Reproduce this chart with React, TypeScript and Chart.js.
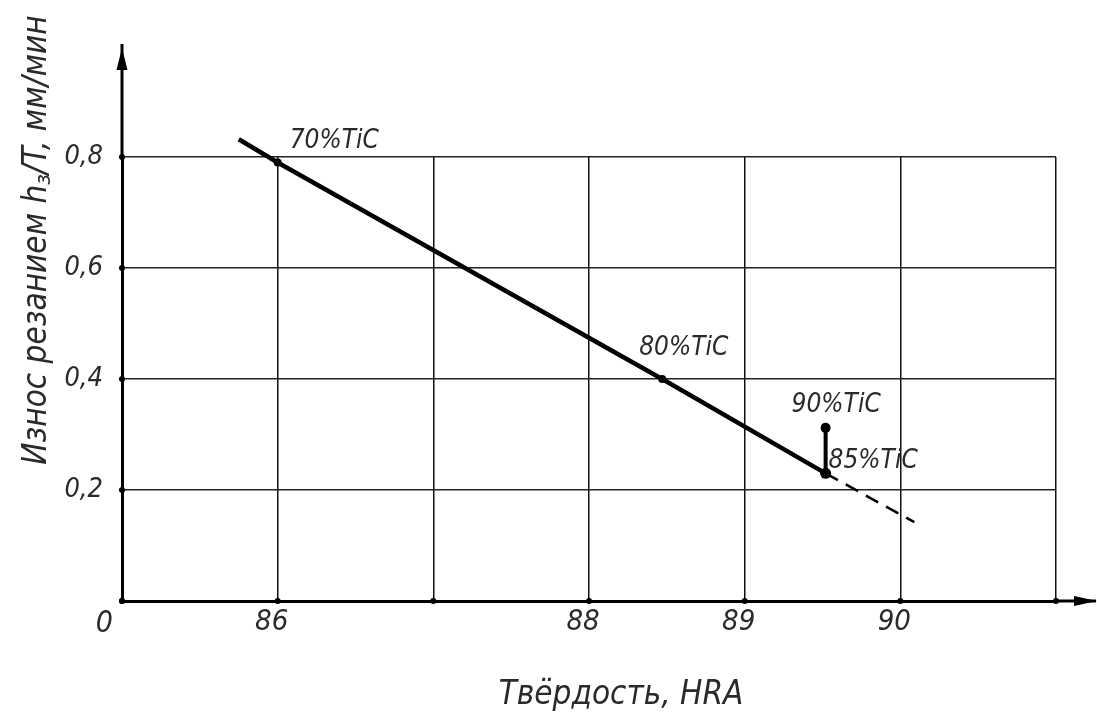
import React, { useEffect, useRef } from "react";
import { Chart, registerables } from "chart.js";

Chart.register(...registerables);

// Hardness (HRA) axis: origin 0 is a broken axis placed at 85
const xTickValues = [85, 86, 87, 88, 89, 90, 91];
const xTickLabels = ["", "86", "", "88", "89", "90", ""];
const originLabel = "0";
const yTickValues = [0, 0.2, 0.4, 0.6, 0.8];
const yTickLabels = ["", "0,2", "0,4", "0,6", "0,8"];

// Main wear line
const mainHardness = [85.75, 86.0, 88.47, 89.52];
const mainWear = [0.832, 0.79, 0.4, 0.23];
const mainLabels = ["", "70%TiC", "80%TiC", "85%TiC"];

// Dashed extrapolation
const dashHardness = [89.52, 90.09];
const dashWear = [0.23, 0.142];

// 90% TiC branch
const branchHardness = [89.52, 89.52];
const branchWear = [0.23, 0.312];
const branchLabels = ["", "90%TiC"];

const xTitle = "Твёрдость, HRA";
const yTitleA = "Износ резанием h";
const yTitleSub = "з";
const yTitleB = "/T, мм/мин";

const FONT = "'DejaVu Sans Condensed', 'Liberation Sans Narrow', sans-serif";
const TEXT = "#2a2a2a";

const labelOffsets: Record<string, [number, number]> = {
  "70%TiC": [12, -15],
  "80%TiC": [-23, -24],
  "85%TiC": [3, -5],
  "90%TiC": [-34, -16],
};

const decor = {
  id: "decor",
  afterDraw(chart: any) {
    const ctx = chart.ctx as CanvasRenderingContext2D;
    const xs = chart.scales.x;
    const ys = chart.scales.y;
    const ox = xs.getPixelForValue(85);
    const oy = ys.getPixelForValue(0);
    const top = ys.getPixelForValue(0.8);
    const right = xs.getPixelForValue(91);
    ctx.save();
    ctx.strokeStyle = "#000";
    ctx.fillStyle = "#000";
    ctx.lineWidth = 3;
    // y axis extension + arrow
    ctx.beginPath();
    ctx.moveTo(ox, top);
    ctx.lineTo(ox, 44);
    ctx.stroke();
    ctx.beginPath();
    ctx.moveTo(ox, 48);
    ctx.lineTo(ox - 5.5, 70);
    ctx.lineTo(ox + 5.5, 70);
    ctx.closePath();
    ctx.fill();
    // x axis extension + arrow
    ctx.beginPath();
    ctx.moveTo(right, oy);
    ctx.lineTo(1096, oy);
    ctx.stroke();
    ctx.beginPath();
    ctx.moveTo(1097, oy);
    ctx.lineTo(1074, oy - 5);
    ctx.lineTo(1074, oy + 5);
    ctx.closePath();
    ctx.fill();
    // tick dots
    for (const v of xTickValues) {
      ctx.beginPath();
      ctx.arc(xs.getPixelForValue(v), oy, 3, 0, Math.PI * 2);
      ctx.fill();
    }
    for (const v of yTickValues) {
      ctx.beginPath();
      ctx.arc(ox, ys.getPixelForValue(v), 3, 0, Math.PI * 2);
      ctx.fill();
    }
    // origin label
    ctx.fillStyle = TEXT;
    ctx.font = `italic 30px ${FONT}`;
    ctx.textAlign = "right";
    ctx.textBaseline = "alphabetic";
    ctx.fillText(originLabel, ox - 9, oy + 31);
    // point labels
    ctx.textAlign = "left";
    ctx.font = `italic 26px ${FONT}`;
    const drawLabels = (dsIndex: number, labels: string[]) => {
      const meta = chart.getDatasetMeta(dsIndex);
      labels.forEach((t, i) => {
        if (!t) return;
        const el = meta.data[i];
        const off = labelOffsets[t] || [0, 0];
        ctx.fillText(t, el.x + off[0], el.y + off[1]);
      });
    };
    drawLabels(0, mainLabels);
    drawLabels(2, branchLabels);
    // x title
    ctx.font = `italic 33px ${FONT}`;
    ctx.textAlign = "center";
    ctx.fillText(xTitle, 621, 704);
    // y title (rotated)
    ctx.translate(46, 240);
    ctx.rotate(-Math.PI / 2);
    const fBig = `italic 33px ${FONT}`;
    const fSmall = `italic 22px ${FONT}`;
    ctx.textAlign = "left";
    ctx.font = fBig;
    const wA = ctx.measureText(yTitleA).width;
    const wB = ctx.measureText(yTitleB).width;
    ctx.font = fSmall;
    const wS = ctx.measureText(yTitleSub).width;
    const total = wA + wS + wB;
    let cx = -total / 2;
    ctx.font = fBig;
    ctx.fillText(yTitleA, cx, 0);
    cx += wA;
    ctx.font = fSmall;
    ctx.fillText(yTitleSub, cx, 4);
    cx += wS;
    ctx.font = fBig;
    ctx.fillText(yTitleB, cx, 0);
    ctx.restore();
  },
};

export default function App() {
  const ref = useRef<HTMLCanvasElement>(null);
  useEffect(() => {
    document.body.style.margin = "0";
    const toPts = (xs: number[], ys: number[]) => xs.map((x, i) => ({ x, y: ys[i] }));
    const chart = new Chart(ref.current!, {
      type: "line",
      data: {
        datasets: [
          {
            data: toPts(mainHardness, mainWear),
            borderColor: "#000",
            backgroundColor: "#000",
            borderWidth: 4.5,
            pointRadius: [0, 4, 4, 5.5],
            pointBorderWidth: 0,
            pointBackgroundColor: "#000",
            tension: 0,
            clip: false,
          },
          {
            data: toPts(dashHardness, dashWear),
            borderColor: "#000",
            borderWidth: 2.5,
            borderDash: [14, 9],
            pointRadius: 0,
            tension: 0,
            clip: false,
          },
          {
            data: toPts(branchHardness, branchWear),
            borderColor: "#000",
            backgroundColor: "#000",
            borderWidth: 4,
            pointRadius: [0, 5],
            pointBorderWidth: 0,
            pointBackgroundColor: "#000",
            tension: 0,
            clip: false,
          },
        ],
      },
      options: {
        animation: false,
        responsive: false,
        events: [],
        layout: { padding: { top: 157, right: 41, left: 0, bottom: 0 } },
        plugins: { legend: { display: false }, tooltip: { enabled: false }, title: { display: false } },
        scales: {
          x: {
            type: "linear",
            min: 85,
            max: 91,
            afterBuildTicks: (s: any) => {
              s.ticks = xTickValues.map((v) => ({ value: v }));
            },
            afterFit: (s: any) => {
              s.height = 123;
            },
            ticks: {
              autoSkip: false,
              maxRotation: 0,
              padding: 4,
              labelOffset: -6,
              color: TEXT,
              font: { family: FONT, style: "italic", size: 29 },
              callback: (v: any) => {
                const i = xTickValues.indexOf(Math.round(Number(v)));
                return i >= 0 ? xTickLabels[i] : "";
              },
            },
            grid: { color: "#111", lineWidth: 1.5, drawTicks: false },
            border: { color: "#000", width: 3 },
          },
          y: {
            type: "linear",
            min: 0,
            max: 0.8,
            afterBuildTicks: (s: any) => {
              s.ticks = yTickValues.map((v) => ({ value: v }));
            },
            afterFit: (s: any) => {
              s.width = 122;
            },
            ticks: {
              autoSkip: false,
              padding: 19,
              color: TEXT,
              font: { family: FONT, style: "italic", size: 27 },
              callback: (v: any) => {
                const i = yTickValues.findIndex((t) => Math.abs(t - Number(v)) < 1e-6);
                return i >= 0 ? yTickLabels[i] : "";
              },
            },
            grid: { color: "#222", lineWidth: 1.5, drawTicks: false },
            border: { color: "#000", width: 3 },
          },
        },
      },
      plugins: [decor],
    } as any);
    return () => chart.destroy();
  }, []);
  return <canvas ref={ref} width={1097} height={724} style={{ display: "block" }} />;
}
